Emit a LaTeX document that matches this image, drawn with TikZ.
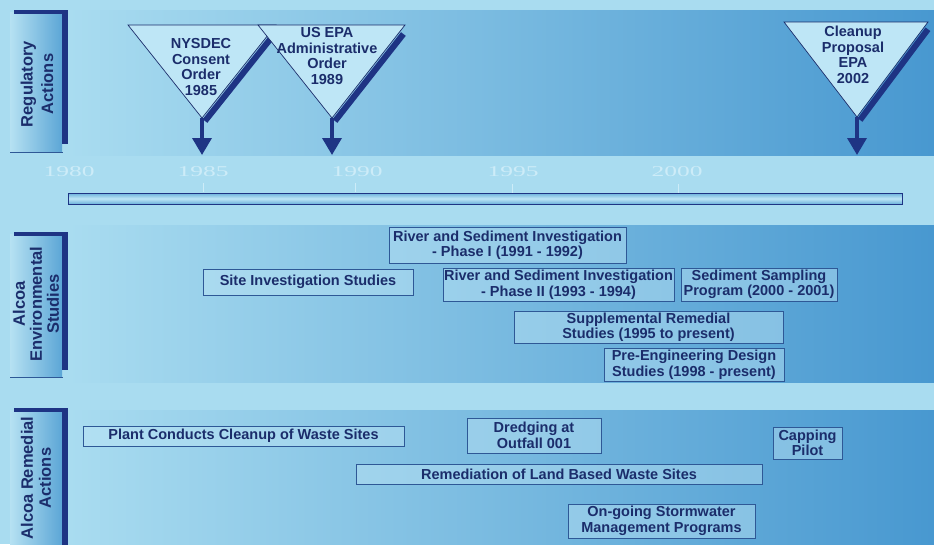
\documentclass[tikz,border=0pt]{standalone}
\usepackage{fontspec}
\setmainfont{Liberation Sans}
\newfontfamily\yearfont{Liberation Serif}
\usepackage{tikz}
\usetikzlibrary{positioning, arrows.meta, calc}

\definecolor{bgblue}{RGB}{169,220,240}
\definecolor{deepblue}{RGB}{72,152,208}
\definecolor{tabblue}{RGB}{92,166,214}
\definecolor{navy}{RGB}{27,45,107}
\definecolor{barnavy}{RGB}{30,52,132}
\definecolor{edgeblue}{RGB}{46,88,150}
\definecolor{paleblue}{RGB}{190,230,246}
\definecolor{ghost}{RGB}{205,236,248}

\begin{document}
\begin{tikzpicture}[
        x=1pt, y=-1pt,
        font=\fontsize{14.5}{15.5}\selectfont\bfseries,
        text=navy,
        % Styles
        band/.style={% For the three shaded strips
            left color=bgblue,
            right color=deepblue,
            },
        tabfill/.style={% For the row title tabs
            left color=bgblue!85!white,
            right color=tabblue,
            },
        tabtext/.style={% For the rotated row titles
            rotate=90,
            align=center,
            font=\fontsize{16.5}{17}\selectfont\bfseries,
            },
        evbox/.style={% For the study and action boxes
            rectangle,
            draw=edgeblue,
            line width=.8pt,
            fill=paleblue,
            fill opacity=.45,
            text opacity=1,
            inner sep=0pt,
            align=center,
            },
        flag/.style={% For the regulatory triangles
            fill=paleblue,
            draw=navy,
            line width=.7pt,
            line join=miter,
            },
        flagshadow/.style={% Thick edge under the triangles
            draw=barnavy,
            line width=6pt,
            },
        flagtext/.style={% Text in the triangles
            align=center,
            inner sep=0pt,
            },
        yearlabel/.style={% Faint years over the axis
            font=\yearfont\fontsize{15}{15}\selectfont,
            text=ghost,
            inner sep=0pt,
            },
        tickmark/.style={% Small ticks under the years
            draw=ghost,
            line width=.6pt,
            },
        timebar/.style={% The long axis bar
            rectangle,
            draw=barnavy,
            line width=1pt,
            top color=tabblue!80!bgblue,
            bottom color=tabblue!80!bgblue,
            middle color=paleblue,
            minimum width=834pt,
            minimum height=11pt,
            inner sep=0pt,
            },
        ArrowF/.style={% Arrows below the triangles
            draw=barnavy,
            line width=3.5pt,
            -{Triangle[width=19pt,length=17pt]},
            },
        ]

    \useasboundingbox (0,0) rectangle (934,544);
    \fill[bgblue] (0,0) rectangle (934,544);

    % Strips
        \fill[band] (68,10) rectangle (934,155);
        \fill[band] (68,225) rectangle (934,382);
        \fill[band] (68,410) rectangle (934,550);

    % Row title tabs
        \fill[tabfill] (10,12) rectangle (62,152);
        \fill[barnavy] (14,10) rectangle (68,14);
        \fill[barnavy] (62,10) rectangle (68,144);
        \draw[edgeblue, thin] (10,152) -- (63,152);
        \node[tabtext, font=\fontsize{16.5}{20.5}\selectfont\bfseries] (regact) at (37,84) {Regulatory\\Actions};

        \fill[tabfill] (10,234) rectangle (62,377);
        \fill[barnavy] (14,232) rectangle (68,236);
        \fill[barnavy] (62,232) rectangle (68,370);
        \draw[edgeblue, thin] (10,377) -- (63,377);
        \node[tabtext] (envstud) at (36,304) {Alcoa\\Environmental\\Studies};

        \fill[tabfill] (10,410) rectangle (62,550);
        \fill[barnavy] (14,408) rectangle (68,412);
        \fill[barnavy] (62,408) rectangle (68,550);
        \node[tabtext, font=\fontsize{16.5}{18}\selectfont\bfseries] (remact) at (36,478) {Alcoa Remedial\\Actions};

    % Years and axis
        \node[yearlabel] (y1980) at (69,172) {\scalebox{1.7}[1]{1980}};
        \node[yearlabel] (y1985) at (203,172) {\scalebox{1.7}[1]{1985}};
        \node[yearlabel] (y1990) at (357,172) {\scalebox{1.7}[1]{1990}};
        \node[yearlabel] (y1995) at (513,172) {\scalebox{1.7}[1]{1995}};
        \node[yearlabel] (y2000) at (677,172) {\scalebox{1.7}[1]{2000}};
        \draw[tickmark] (y1985.south) ++(0,6) -- ++(0,9);
        \draw[tickmark] (y1990.south) ++(-2,6) -- ++(0,9);
        \draw[tickmark] (y1995.south) ++(-1,7) -- ++(0,9);
        \draw[tickmark] (y2000.south) ++(1,7) -- ++(0,9);
        \node[timebar] (axis) at (485,198.5) {};

    % Regulatory triangles
        \coordinate (t1l) at (128,25);
        \coordinate (t1r) at (276,25);
        \coordinate (t1a) at (202,118);
        \coordinate (t1tip) at (202,155);
        \coordinate (t2l) at (258,25);
        \coordinate (t2r) at (405,25);
        \coordinate (t2a) at (332,118);
        \coordinate (t2tip) at (332,155);
        \coordinate (t3l) at (784,22);
        \coordinate (t3r) at (928,22);
        \coordinate (t3a) at (857,117);
        \coordinate (t3tip) at (857,155);

        \draw[flagshadow] ($(t1r)!0.12!(t1a)+(3.5,2.5)$) -- ($(t1a)+(3,3)$);
        \filldraw[flag] (t1l) -- (t1r) -- (t1a) -- cycle;
        \draw[ArrowF] (t1a) -- (t1tip);
        \draw[flagshadow] ($(t2r)!0.07!(t2a)+(3.5,2.5)$) -- ($(t2a)+(3,3)$);
        \filldraw[flag] (t2l) -- (t2r) -- (t2a) -- cycle;
        \draw[ArrowF] (t2a) -- (t2tip);
        \draw[flagshadow] ($(t3r)!0.05!(t3a)+(3.5,2.5)$) -- ($(t3a)+(3,3)$);
        \filldraw[flag] (t3l) -- (t3r) -- (t3a) -- cycle;
        \draw[ArrowF] (t3a) -- (t3tip);

        \node[flagtext] (nysdec) at (201,67) {NYSDEC\\Consent\\Order\\1985};
        \node[flagtext] (epa89) at (327,56) {US EPA\\Administrative\\Order\\1989};
        \node[flagtext] (epa02) at (853,55) {Cleanup\\Proposal\\EPA\\2002};

    % Alcoa environmental studies
        \node[evbox, minimum width=237pt, minimum height=36pt] (river1) at (507.5,245) {River and Sediment Investigation\\- Phase I (1991 - 1992)};
        \node[evbox, minimum width=210pt, minimum height=26pt] (site) at (308,282) {Site Investigation Studies};
        \node[evbox, minimum width=231pt, minimum height=33pt] (river2) at (558.5,284.5) {River and Sediment Investigation\\- Phase II (1993 - 1994)};
        \node[evbox, minimum width=156pt, minimum height=33pt] (sampling) at (759,284.5) {Sediment Sampling\\Program (2000 - 2001)};
        \node[evbox, minimum width=269pt, minimum height=32pt] (suppl) at (648.5,327) {Supplemental Remedial\\Studies (1995 to present)};
        \node[evbox, minimum width=180pt, minimum height=33pt] (preeng) at (694,364.5) {Pre-Engineering Design\\Studies (1998 - present)};

    % Alcoa remedial actions
        \node[evbox, minimum width=321pt, minimum height=20pt] (plant) at (243.5,436) {Plant Conducts Cleanup of Waste Sites};
        \node[evbox, minimum width=134pt, minimum height=35pt] (dredge) at (534,435.5) {Dredging at\\Outfall 001};
        \node[evbox, minimum width=69pt, minimum height=32pt] (capping) at (807.5,443) {Capping\\Pilot};
        \node[evbox, minimum width=406pt, minimum height=20pt] (landsites) at (559,474) {Remediation of Land Based Waste Sites};
        \node[evbox, minimum width=187pt, minimum height=34pt] (storm) at (661.5,521) {On-going Stormwater\\Management Programs};

\end{tikzpicture}
\end{document}
